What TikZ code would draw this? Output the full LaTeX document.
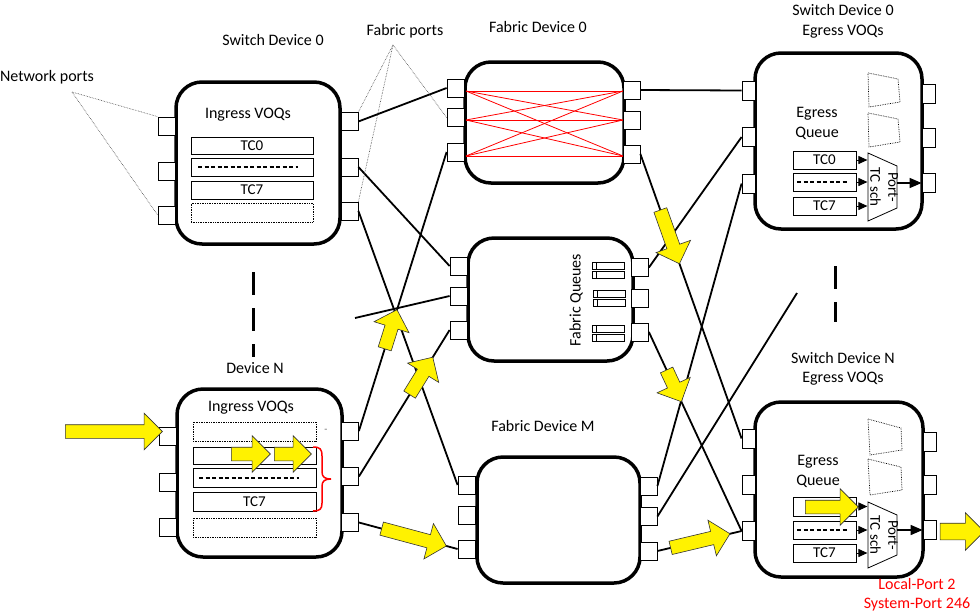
\documentclass[tikz,border=0pt]{standalone}
\usepackage{fontspec}
\setmainfont{Carlito}
\usetikzlibrary{shapes.arrows,arrows.meta}
\begin{document}
\begin{tikzpicture}[x=1pt,y=-1pt,
  bigbox/.style={draw, line width=3.5pt, rounded corners=26pt, fill=white, inner sep=0},
  port/.style={draw, fill=white, line width=0.8pt, minimum width=17pt, minimum height=18pt, inner sep=0},
  eport/.style={draw, fill=white, line width=0.8pt, minimum width=13pt, minimum height=19pt, inner sep=0},
  conn/.style={line width=1.8pt},
  annot/.style={densely dotted, line width=0.6pt, black!75},
  lbl/.style={font=\fontsize{16}{19.5}\selectfont, inner sep=0, align=center},
  qrow/.style={draw, line width=0.8pt, inner sep=0, font=\fontsize{15}{18}\selectfont},
  drow/.style={draw, densely dotted, line width=0.7pt, inner sep=0},
  dashfill/.style={line width=2pt, dash pattern=on 4pt off 2.5pt},
  yarrow/.style={single arrow, draw=black!80, line width=0.6pt, fill=yellow, inner xsep=0pt, inner ysep=6.5pt, single arrow head extend=11.5pt, allow upside down},
  smallarr/.style={line width=1pt, -{Triangle[length=9pt,width=8pt]}},
  outarr/.style={line width=1.5pt, -{Triangle[length=12pt,width=10pt]}},
  redline/.style={red, line width=0.8pt},
  sepdash/.style={line width=3pt, dash pattern=on 23pt off 13pt},
  trap/.style={densely dotted, line width=0.7pt}
]
\useasboundingbox (0,0) rectangle (980,614);
\fill[white] (0,0) rectangle (980,614);

% big boxes
\node[bigbox, minimum width=164pt, minimum height=162pt] (sw0) at (258,163) {};
\node[bigbox, minimum width=165pt, minimum height=168pt] (swn) at (259.5,473) {};
\node[bigbox, minimum width=159pt, minimum height=121pt] (fd0) at (544.5,122.5) {};
\node[bigbox, minimum width=165pt, minimum height=123pt] (fq) at (550.5,299.5) {};
\node[bigbox, minimum width=163pt, minimum height=126pt] (fm) at (558.5,520) {};
\node[bigbox, minimum width=167pt, minimum height=176pt] (eg0) at (838.5,141) {};
\node[bigbox, minimum width=168pt, minimum height=175pt] (egn) at (839,489.5) {};

% crossbar in fabric device 0
\foreach \a in {91,120,156} {
  \foreach \b in {91,120,156} {
    \draw[redline] (466,\a) -- (623,\b);
  }
}

% fabric queues
\foreach \qx/\qy in {592/265.5, 592/275, 593/294, 593/303, 592/328.5, 592/337.5} {
  \draw[line width=0.7pt] (\qx,\qy-3.5) rectangle ++(32,7);
  \draw[line width=0.7pt] (\qx+4,\qy-3.5) -- ++(0,7);
}

% ports
\node[port] (sw0l1) at (166.5,126) {};
\node[port] (sw0l2) at (166.5,171) {};
\node[port] (sw0l3) at (166.5,215) {};
\node[port] (sw0r1) at (349.5,121.5) {};
\node[port] (sw0r2) at (349.5,167) {};
\node[port] (sw0r3) at (349.5,211) {};
\node[port] (swnl1) at (168,436) {};
\node[port] (swnl2) at (168,482) {};
\node[port] (swnl3) at (168,527.5) {};
\node[port] (swnr1) at (350,431) {};
\node[port] (swnr2) at (350,476.5) {};
\node[port] (swnr3) at (350,522.5) {};
\node[port] (fd0l1) at (455.5,88) {};
\node[port] (fd0l2) at (455.5,117.5) {};
\node[port] (fd0l3) at (455.5,152) {};
\node[port] (fd0r1) at (631.5,90) {};
\node[port] (fd0r2) at (631.5,120) {};
\node[port] (fd0r3) at (631.5,154) {};
\node[port] (fql1) at (458.5,266) {};
\node[port] (fql2) at (458.5,296) {};
\node[port] (fql3) at (458.5,330) {};
\node[port] (fqr1) at (640,267.5) {};
\node[port] (fqr2) at (640,298) {};
\node[port] (fqr3) at (640,332) {};
\node[port] (fml1) at (466.5,485) {};
\node[port] (fml2) at (466.5,515) {};
\node[port] (fml3) at (466.5,549) {};
\node[port] (fmr1) at (648.5,486) {};
\node[port] (fmr2) at (648.5,516.5) {};
\node[port] (fmr3) at (648.5,551) {};
\node[eport] (eg0l1) at (748.5,90.5) {};
\node[eport] (eg0l2) at (748.5,137) {};
\node[eport] (eg0l3) at (748.5,183.5) {};
\node[eport] (eg0r1) at (928.5,93.5) {};
\node[eport] (eg0r2) at (928.5,137.5) {};
\node[eport] (eg0r3) at (928.5,183) {};
\node[eport] (egnl1) at (748.5,438.5) {};
\node[eport] (egnl2) at (748.5,485) {};
\node[eport] (egnl3) at (748.5,531) {};
\node[eport] (egnr1) at (929.5,441.5) {};
\node[eport] (egnr2) at (929.5,484.5) {};
\node[eport] (egnr3) at (929.5,530) {};

% ingress queues, switch device 0
\node[qrow, minimum width=122pt, minimum height=17pt] (sw0q0) at (252,145.5) {TC0};
\node[qrow, minimum width=122pt, minimum height=18pt] (sw0q1) at (252,167) {};
\draw[dashfill] (198,167) -- (298,167);
\node[qrow, minimum width=122pt, minimum height=18pt] (sw0q2) at (252,190) {TC7};
\node[drow, minimum width=122pt, minimum height=19pt] (sw0q3) at (252,212.5) {};

% ingress queues, device N
\node[drow, minimum width=123pt, minimum height=19pt] (swnq0) at (254.5,431.5) {};
\node[qrow, minimum width=123pt, minimum height=17pt] (swnq1) at (254.5,455.5) {};
\node[qrow, minimum width=123pt, minimum height=19pt] (swnq2) at (254.5,477.5) {};
\draw[dashfill] (199,478) -- (299,478);
\node[qrow, minimum width=123pt, minimum height=19pt] (swnq3) at (254.5,501.5) {TC7};
\node[drow, minimum width=123pt, minimum height=19pt] (swnq4) at (254.5,527.5) {};
\draw[red, line width=1.5pt] (313,447) .. controls (320,447) and (322,449) .. (322,456) -- (322,472) .. controls (322,477) and (325,479) .. (331,479) .. controls (325,479) and (322,481) .. (322,486) -- (322,503) .. controls (322,509) and (320,511) .. (313,511);

% egress queues, switch device 0
\node[qrow, minimum width=63pt, minimum height=18pt] (eg0q0) at (824.5,160) {TC0};
\node[qrow, minimum width=63pt, minimum height=18pt] (eg0q1) at (824.5,182) {};
\draw[dashfill] (797,182) -- (848,182);
\node[qrow, minimum width=63pt, minimum height=18pt] (eg0q2) at (824.5,206) {TC7};
\draw[smallarr] (eg0q0.east) -- ++(11,0);
\draw[smallarr] (eg0q1.east) -- ++(11,0);
\draw[smallarr] (eg0q2.east) -- ++(11,0);
\draw[line width=0.8pt] (868,153) -- (897,166) -- (897,208) -- (868,221) -- cycle;
\node[lbl, rotate=-90, font=\fontsize{15}{18}\selectfont] (eg0sch) at (884,187) {Port-\\TC sch};
\coordinate (eg0out) at (897,183);
\draw[outarr] (eg0out) -- (eg0r3.west);
\draw[trap] (868,73) -- (898,79) -- (900,102) -- (869,107) -- cycle;
\draw[trap] (868,113) -- (898,119) -- (900,142) -- (869,147) -- cycle;

% egress queues, switch device N
\node[qrow, minimum width=63pt, minimum height=19pt] (egnq0) at (824.5,506.5) {};
\node[qrow, minimum width=63pt, minimum height=18pt] (egnq1) at (824.5,530) {};
\draw[dashfill] (797,530) -- (848,530);
\node[qrow, minimum width=63pt, minimum height=18pt] (egnq2) at (824.5,553) {TC7};
\draw[smallarr] (egnq0.east) -- ++(11,0);
\draw[smallarr] (egnq1.east) -- ++(11,0);
\draw[smallarr] (egnq2.east) -- ++(11,0);
\draw[line width=0.8pt] (868,502) -- (897,515) -- (897,555) -- (868,568) -- cycle;
\node[lbl, rotate=-90, font=\fontsize{15}{18}\selectfont] (egnsch) at (884,535) {Port-\\TC sch};
\coordinate (egnout) at (897,530);
\draw[outarr] (egnout) -- (egnr3.west);
\draw[trap] (868,419) -- (901,428) -- (902,450) -- (870,455) -- cycle;
\draw[trap] (868,459) -- (901,467) -- (902,490) -- (870,495) -- cycle;

% separators
\draw[sepdash] (253,272) -- (253,357);
\draw[sepdash] (835,266) -- (835,322);

% connectors
\coordinate (loose1) at (355,318);
\coordinate (loose2) at (797,293);
\draw[conn] (sw0r1.east) -- (fd0l1.west);
\draw[conn] (sw0r2.east) -- (fql1.west);
\draw[conn] (sw0r3.east) -- (fml1.west);
\draw[conn] (fql2.west) -- (loose1);
\draw[conn] (swnr1.east) -- (fd0l3.west);
\draw[conn] (swnr2.east) -- (fql3.west);
\draw[conn] (swnr3.east) -- (fml3.west);
\draw[conn] (fd0r1.east) -- (eg0l1.west);
\draw[conn] (fd0r3.east) -- (egnl1.west);
\draw[conn] (fqr1.east) -- (eg0l2.west);
\draw[conn] (fqr3.east) -- (egnl3.west);
\draw[conn] (eg0l3.west) -- (fmr1.east);
\draw[conn] (fmr2.east) -- (loose2);
\draw[conn] (fmr3.east) -- (egnl3.west);

% annotation lines
\coordinate (netapex) at (72,92);
\coordinate (fabapex) at (393,45);
\draw[annot] (netapex) -- (sw0l1.north west);
\draw[annot] (netapex) -- (sw0l3.west);
\draw[annot] (fabapex) -- (sw0r1.north east);
\draw[annot] (fabapex) -- (sw0r3.north east);
\draw[annot] (fabapex) -- (fd0l2.west);

% yellow flow arrows
\node[yarrow, minimum height=97pt] (yain) at (110.5,431.5) {};
\node[yarrow, minimum height=39pt] (yaq1) at (247.5,454) {};
\node[yarrow, minimum height=37pt] (yaq2) at (289.5,454) {};
\node[yarrow, minimum height=53pt] (yaeg) at (828.5,507) {};
\node[yarrow, minimum height=44pt, inner ysep=8pt, single arrow head extend=10.5pt] (yaout) at (958,531.5) {};
\path (swnr1.east) -- (fd0l3.west) node[yarrow, sloped, pos=0.353, minimum height=41pt] (yaa) {};
\path (swnr2.east) -- (fql3.west) node[yarrow, sloped, pos=0.667, minimum height=44pt] (yab) {};
\path (swnr3.east) -- (fml3.west) node[yarrow, sloped, pos=0.525, minimum height=67pt] (yac) {};
\path (fd0r3.east) -- (egnl1.west) node[yarrow, sloped, pos=0.28, minimum height=57pt] (yad) {};
\path (fqr3.east) -- (egnl3.west) node[yarrow, sloped, pos=0.255, minimum height=35pt] (yae) {};
\path (fmr3.east) -- (egnl3.west) node[yarrow, sloped, pos=0.47, minimum height=61pt] (yaf) {};

% labels
\node[lbl] (tsw0) at (273,40) {Switch Device 0};
\node[lbl] (tnet) at (47,77) {Network ports};
\node[lbl] (tfab) at (405,31) {Fabric ports};
\node[lbl] (tfd0) at (538,27) {Fabric Device 0};
\node[lbl] (teg0) at (843,21.5) {Switch Device 0\\Egress VOQs};
\node[lbl] (tin0) at (248,115) {Ingress VOQs};
\node[lbl] (tdevn) at (255,368) {Device N};
\node[lbl] (tinn) at (251,408) {Ingress VOQs};
\node[lbl] (tfm) at (543,426) {Fabric Device M};
\node[lbl] (tegn) at (843,369) {Switch Device N\\Egress VOQs};
\node[lbl] (teq0) at (817,123.5) {Egress\\Queue};
\node[lbl] (teqn) at (818,471.5) {Egress\\Queue};
\node[lbl, rotate=90] (tfq) at (576,300) {Fabric Queues};
\node[lbl, text=red] (tlp) at (917,594.5) {Local-Port 2\\System-Port 246};
\node[font=\fontsize{10}{12}\selectfont, text=black!60, inner sep=0] (tdash) at (326,431) {-};
\end{tikzpicture}
\end{document}
